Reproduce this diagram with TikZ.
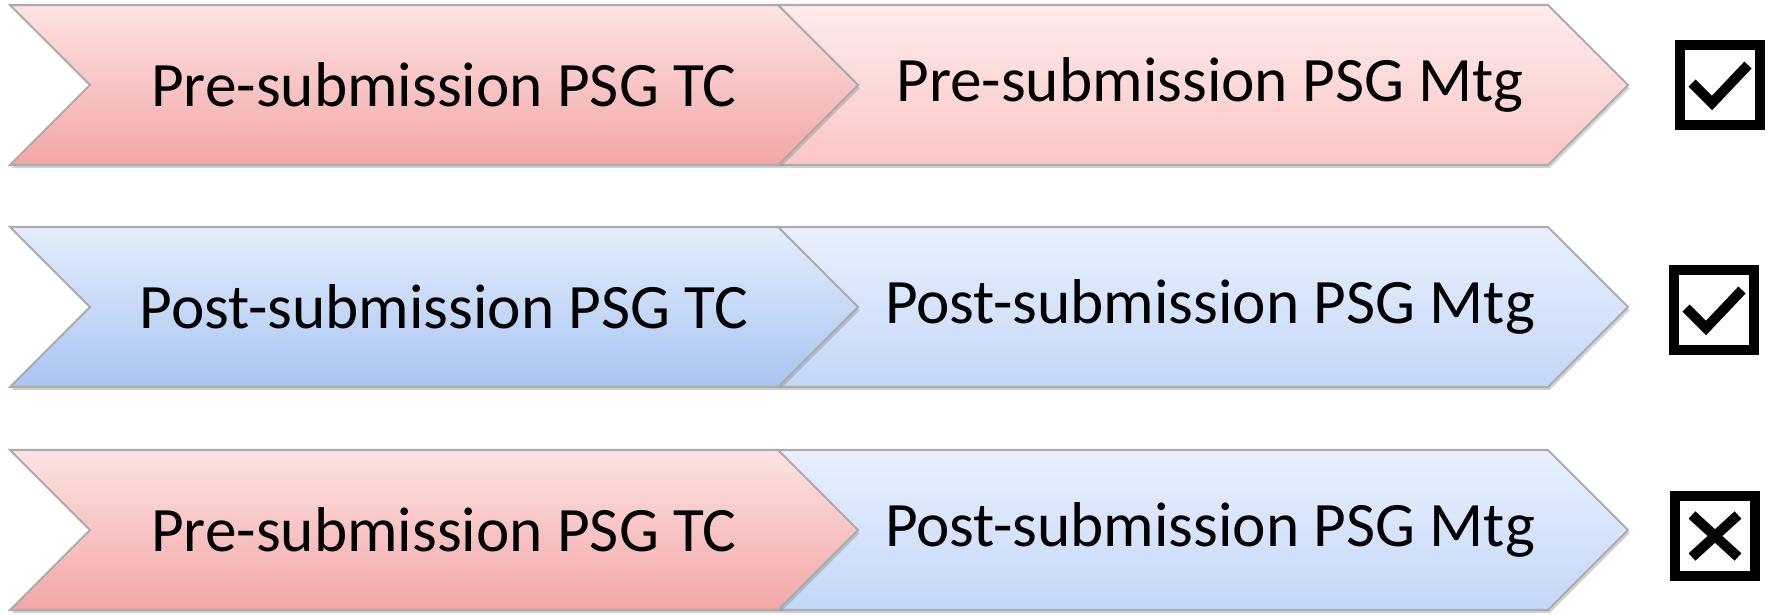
\documentclass[tikz,border=0pt]{standalone}
\usepackage{fontspec}
\setmainfont{Carlito}
\usetikzlibrary{shadows}
\definecolor{pinkAtop}{HTML}{FDE3E3}
\definecolor{pinkAbot}{HTML}{F3A6A6}
\definecolor{pinkBtop}{HTML}{FEEBEB}
\definecolor{pinkBbot}{HTML}{FBC6C6}
\definecolor{blueAtop}{HTML}{E4EDFC}
\definecolor{blueAbot}{HTML}{A9C5F2}
\definecolor{blueBtop}{HTML}{E9F0FE}
\definecolor{blueBbot}{HTML}{C4D7F8}
\tikzset{
  chev/.style={draw=gray!65, line width=0.6pt,
    drop shadow={shadow xshift=0.5pt,shadow yshift=-0.9pt,opacity=0.35}},
  pinkA/.style={top color=pinkAtop, bottom color=pinkAbot},
  pinkB/.style={top color=pinkBtop, bottom color=pinkBbot},
  blueA/.style={top color=blueAtop, bottom color=blueAbot},
  blueB/.style={top color=blueBtop, bottom color=blueBbot},
  lbl/.style={font=\fontsize{18}{22}\selectfont, inner sep=0pt},
  tickbox/.style={draw, line width=2.85pt, minimum size=0.8cm, inner sep=0pt},
  mark line/.style={line width=2.85pt, line cap=butt, line join=miter}
}
\begin{document}
\begin{tikzpicture}[x=0.01cm,y=-0.01cm]
  \useasboundingbox (0,0) rectangle (1768,615);
  % rows of chevrons
  \foreach \c/\fa/\fb/\ta/\tb/\n in {85/pinkA/pinkB/Pre-submission PSG TC/Pre-submission PSG Mtg/1,
      307/blueA/blueB/Post-submission PSG TC/Post-submission PSG Mtg/2,
      530/pinkA/blueB/Pre-submission PSG TC/Post-submission PSG Mtg/3}{
    \path[chev,\fb] (778,\c-80) -- (1548,\c-80) -- (1628,\c) -- (1548,\c+80)
      -- (778,\c+80) -- (858,\c) -- cycle;
    \path[chev,\fa] (10,\c-80) -- (778,\c-80) -- (858,\c) -- (778,\c+80)
      -- (10,\c+80) -- (90,\c) -- cycle;
    \node[lbl] (tc\n) at (444,\c) {\ta};
    \node[lbl] (mtg\n) at (1210,\c) {\tb};
  }
  % check boxes
  \node[tickbox] (box1) at (1720,85) {};
  \node[tickbox] (box2) at (1714,310) {};
  \node[tickbox] (box3) at (1715,536) {};
  \foreach \b in {box1,box2}{
    \draw[mark line] ([shift={(-28,-2)}]\b.center) -- ([shift={(-8,18)}]\b.center)
      -- ([shift={(28,-20)}]\b.center);
  }
  \draw[mark line] ([shift={(-23,-21)}]box3.center) -- ([shift={(23,21)}]box3.center);
  \draw[mark line] ([shift={(-23,21)}]box3.center) -- ([shift={(23,-21)}]box3.center);
\end{tikzpicture}
\end{document}
